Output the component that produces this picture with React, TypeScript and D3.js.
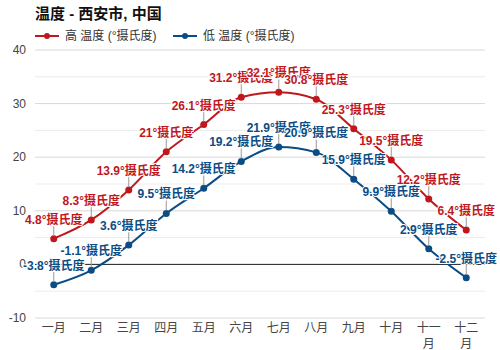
import React, { useEffect, useRef } from "react";
import * as d3 from "d3";

const months = ["一月", "二月", "三月", "四月", "五月", "六月", "七月", "八月", "九月", "十月", "十一月", "十二月"];
const highTemps = [4.8, 8.3, 13.9, 21, 26.1, 31.2, 32.1, 30.8, 25.3, 19.5, 12.2, 6.4];
const lowTemps = [-3.8, -1.1, 3.6, 9.5, 14.2, 19.2, 21.9, 20.9, 15.9, 9.9, 2.9, -2.5];
const seriesNames = ["高 温度 (°摄氏度)", "低 温度 (°摄氏度)"];
const yTicks = [-10, 0, 10, 20, 30, 40];

const FONT = "'Liberation Sans', 'Noto Sans CJK SC', sans-serif";

export default function App() {
  const svgRef = useRef<SVGSVGElement>(null);

  useEffect(() => {
    const width = 500;
    const height = 350;
    const margin = { top: 50, right: 15, bottom: 32, left: 35 };

    const svg = d3.select(svgRef.current).attr("width", width).attr("height", height);
    svg.selectAll("*").remove();

    const x = d3
      .scalePoint<string>()
      .domain(months)
      .range([margin.left, width - margin.right])
      .padding(0.5);

    const y = d3
      .scaleLinear()
      .domain([-10, 40])
      .range([height - margin.bottom, margin.top]);

    // minor + major gridlines
    svg
      .append("g")
      .selectAll("line")
      .data(d3.range(-10, 41, 5))
      .join("line")
      .attr("x1", margin.left)
      .attr("x2", width - margin.right)
      .attr("y1", (d) => y(d))
      .attr("y2", (d) => y(d))
      .attr("stroke", (d) => (d % 10 === 0 ? "#d8d8d8" : "#ececec"))
      .attr("stroke-width", 1);

    // zero line
    svg
      .append("line")
      .attr("x1", margin.left)
      .attr("x2", width - margin.right)
      .attr("y1", y(0))
      .attr("y2", y(0))
      .attr("stroke", "#222")
      .attr("stroke-width", 1);

    // y tick labels
    svg
      .append("g")
      .selectAll("text")
      .data(yTicks)
      .join("text")
      .attr("x", 26)
      .attr("y", (d) => y(d) + 4)
      .attr("text-anchor", "end")
      .attr("font-family", FONT)
      .attr("font-size", 12)
      .attr("fill", "#444")
      .text((d) => d);

    // x tick labels (wrapping long ones)
    const xt = svg
      .append("g")
      .selectAll("text")
      .data(months)
      .join("text")
      .attr("x", (d) => x(d)!)
      .attr("y", height - margin.bottom + 14)
      .attr("text-anchor", "middle")
      .attr("font-family", FONT)
      .attr("font-size", 12)
      .attr("fill", "#444");
    xt.each(function (d) {
      const t = d3.select(this);
      const parts = d.length > 2 ? [d.slice(0, 2), d.slice(2)] : [d];
      parts.forEach((p, i) => {
        t.append("tspan")
          .attr("x", x(d)!)
          .attr("dy", i === 0 ? 0 : 16)
          .text(p);
      });
    });

    const series = [
      { name: seriesNames[0], values: highTemps, color: "#c0171d" },
      { name: seriesNames[1], values: lowTemps, color: "#0b4c85" },
    ];

    const line = d3
      .line<number>()
      .x((d, i) => x(months[i])!)
      .y((d) => y(d))
      .curve(d3.curveMonotoneX);

    series.forEach((s) => {
      const g = svg.append("g");
      g.append("path")
        .attr("d", line(s.values))
        .attr("fill", "none")
        .attr("stroke", s.color)
        .attr("stroke-width", 2);

      g.selectAll("circle")
        .data(s.values)
        .join("circle")
        .attr("cx", (d, i) => x(months[i])!)
        .attr("cy", (d) => y(d))
        .attr("r", 3.5)
        .attr("fill", s.color);
    });

    // data labels with leader lines
    series.forEach((s) => {
      const g = svg.append("g");
      g.selectAll("line")
        .data(s.values)
        .join("line")
        .attr("x1", (d, i) => x(months[i])!)
        .attr("x2", (d, i) => x(months[i])!)
        .attr("y1", (d) => y(d) - 3)
        .attr("y2", (d) => y(d) - 13)
        .attr("stroke", "#999")
        .attr("stroke-width", 1);

      g.selectAll("text")
        .data(s.values)
        .join("text")
        .attr("x", (d, i) => x(months[i])!)
        .attr("y", (d) => y(d) - 15)
        .attr("text-anchor", "middle")
        .attr("font-family", FONT)
        .attr("font-size", 12)
        .attr("font-weight", "bold")
        .attr("fill", s.color)
        .attr("stroke", "#fff")
        .attr("stroke-width", 2)
        .attr("paint-order", "stroke")
        .text((d) => `${d}°摄氏度`);
    });

    // title
    svg
      .append("text")
      .attr("x", 35)
      .attr("y", 19)
      .attr("font-family", FONT)
      .attr("font-size", 15)
      .attr("font-weight", "bold")
      .attr("fill", "#111")
      .text("温度 - 西安市, 中国");

    // legend
    const legendX = [35, 173];
    series.forEach((s, i) => {
      const g = svg.append("g").attr("transform", `translate(${legendX[i]},36)`);
      g.append("line").attr("x1", 0).attr("x2", 24).attr("stroke", s.color).attr("stroke-width", 2);
      g.append("circle").attr("cx", 12).attr("r", 3).attr("fill", s.color);
      g.append("text")
        .attr("x", 30)
        .attr("y", 4)
        .attr("font-family", FONT)
        .attr("font-size", 12)
        .attr("fill", "#333")
        .text(s.name);
    });
  }, []);

  return (
    <div style={{ position: "absolute", left: 0, top: 0 }}>
      <svg ref={svgRef}></svg>
    </div>
  );
}
